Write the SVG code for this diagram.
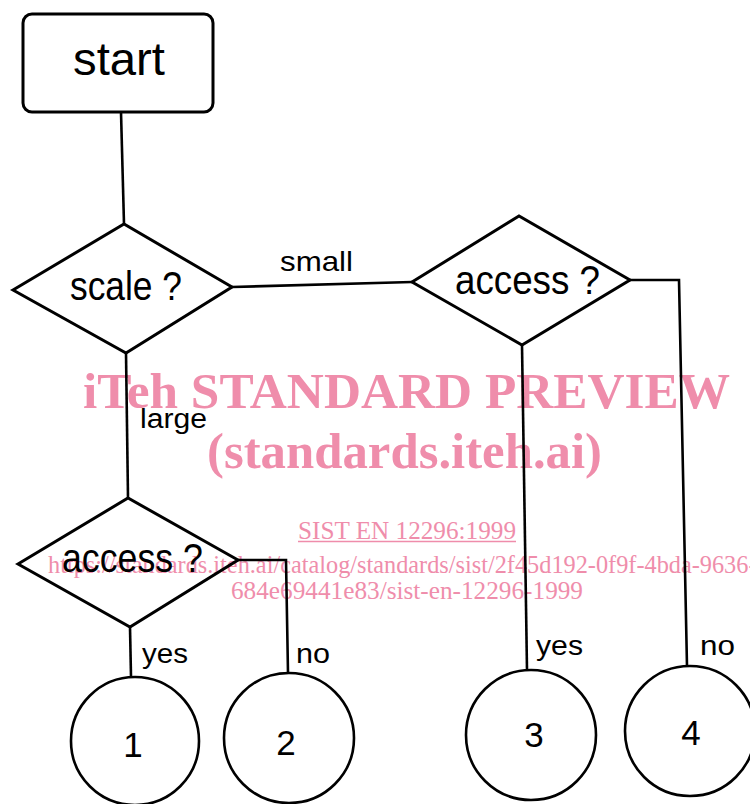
<svg xmlns="http://www.w3.org/2000/svg" width="750" height="804" viewBox="0 0 750 804">
  <style>
    .shape { fill: none; stroke: #000; stroke-width: 3; stroke-linejoin: miter; }
    .term { fill: none; stroke: #000; stroke-width: 2.6; }
    .wire { fill: none; stroke: #000; stroke-width: 2.6; }
    .lbl { font-family: "Liberation Sans", Arial, sans-serif; fill: #000; }
    .mark { font-family: "Liberation Serif", "Times New Roman", serif; fill: #ef8dab; }
    .mark-b { font-weight: bold; font-size: 50px; }
  </style>

  <!-- watermark banner, sits underneath the chart -->
  <g id="watermark">
    <text class="mark mark-b" x="83" y="408" textLength="647" lengthAdjust="spacingAndGlyphs">iTeh STANDARD PREVIEW</text>
    <text class="mark mark-b" x="207" y="468" textLength="395" lengthAdjust="spacingAndGlyphs">(standards.iteh.ai)</text>
    <text class="mark" x="298" y="539" font-size="25" textLength="218" lengthAdjust="spacingAndGlyphs">SIST EN 12296:1999</text>
    <line x1="298" y1="541.5" x2="516" y2="541.5" stroke="#ef8dab" stroke-width="1.5"/>
    <text class="mark" x="48" y="573" font-size="24.3">https://standards.iteh.ai/catalog/standards/sist/2f45d192-0f9f-4bda-9636-</text>
    <text class="mark" x="231" y="599" font-size="25" textLength="352" lengthAdjust="spacingAndGlyphs">684e69441e83/sist-en-12296-1999</text>
  </g>

  <!-- connectors -->
  <g id="connectors">
    <polyline class="wire" points="121,112 124,224"/>
    <polyline class="wire" points="232,287 412,282"/>
    <polyline class="wire" points="126,353 128,498"/>
    <polyline class="wire" points="130,627 131,677"/>
    <polyline class="wire" points="238,560 286,560 288,673"/>
    <polyline class="wire" points="522,345 527,670"/>
    <polyline class="wire" points="630,280 679,280 687,666"/>
  </g>

  <!-- edge labels -->
  <g id="edge-labels">
    <text class="lbl" x="280" y="271" font-size="28" textLength="73" lengthAdjust="spacingAndGlyphs">small</text>
    <text class="lbl" x="140" y="428" font-size="27" textLength="67" lengthAdjust="spacingAndGlyphs">large</text>
    <text class="lbl" x="142" y="663" font-size="28" textLength="46" lengthAdjust="spacingAndGlyphs">yes</text>
    <text class="lbl" x="296" y="663" font-size="28" textLength="34" lengthAdjust="spacingAndGlyphs">no</text>
    <text class="lbl" x="536" y="655" font-size="28" textLength="47" lengthAdjust="spacingAndGlyphs">yes</text>
    <text class="lbl" x="700" y="655" font-size="28" textLength="35" lengthAdjust="spacingAndGlyphs">no</text>
  </g>

  <g id="start">
    <rect class="shape" x="23" y="14" width="190" height="98" rx="9"/>
    <text class="lbl" x="73" y="75" font-size="47" textLength="92" lengthAdjust="spacingAndGlyphs">start</text>
  </g>

  <g id="scale">
    <polygon class="shape" points="13,290 124,224 232,287 126,353"/>
    <text class="lbl" x="70" y="300" font-size="40" textLength="112" lengthAdjust="spacingAndGlyphs">scale ?</text>
  </g>

  <g id="access-small">
    <polygon class="shape" points="412,282 519,216 630,280 522,345"/>
    <text class="lbl" x="455" y="294" font-size="40" textLength="145" lengthAdjust="spacingAndGlyphs">access ?</text>
  </g>

  <g id="access-large">
    <polygon class="shape" points="18,564 128,498 238,560 130,627"/>
    <text class="lbl" x="62" y="572" font-size="40" textLength="141" lengthAdjust="spacingAndGlyphs">access ?</text>
  </g>

  <g id="result-1">
    <circle class="term" cx="135" cy="741" r="64"/>
    <text class="lbl" x="133" y="757" font-size="35" text-anchor="middle">1</text>
  </g>
  <g id="result-2">
    <circle class="term" cx="289" cy="738" r="65"/>
    <text class="lbl" x="286" y="755" font-size="35" text-anchor="middle">2</text>
  </g>
  <g id="result-3">
    <circle class="term" cx="531" cy="735" r="65"/>
    <text class="lbl" x="534" y="747" font-size="35" text-anchor="middle">3</text>
  </g>
  <g id="result-4">
    <circle class="term" cx="690" cy="731" r="65"/>
    <text class="lbl" x="691" y="745" font-size="35" text-anchor="middle">4</text>
  </g>
</svg>
